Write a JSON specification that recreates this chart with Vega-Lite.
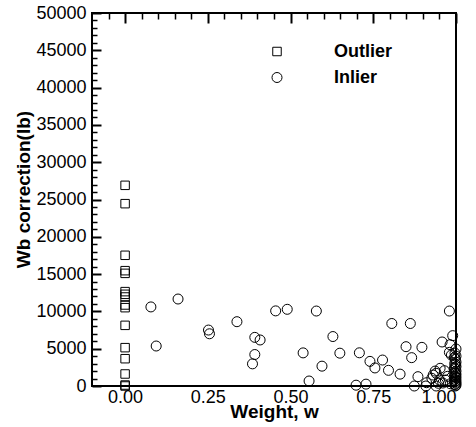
{
  "$schema": "https://vega.github.io/schema/vega-lite/v6.json",
  "autosize": {"type": "none"},
  "padding": {"left": 92, "top": 13, "right": 20, "bottom": 41},
  "width": 364,
  "height": 373,
  "config": {
    "font": "Liberation Sans",
    "view": {"stroke": "black", "strokeWidth": 2},
    "axis": {"zindex": 1, "domain": false, "ticks": false, "tickSize": 0, "grid": true, "gridColor": "black", "gridOpacity": 1, "labelColor": "black", "titleColor": "black"}
  },
  "data": {"values": [
    {"w": 0, "wb": 26900, "type": "Outlier"},
    {"w": 0, "wb": 24440, "type": "Outlier"},
    {"w": 0, "wb": 17520, "type": "Outlier"},
    {"w": 0, "wb": 15460, "type": "Outlier"},
    {"w": 0, "wb": 15100, "type": "Outlier"},
    {"w": 0, "wb": 12650, "type": "Outlier"},
    {"w": 0, "wb": 12290, "type": "Outlier"},
    {"w": 0, "wb": 11930, "type": "Outlier"},
    {"w": 0, "wb": 10860, "type": "Outlier"},
    {"w": 0, "wb": 10500, "type": "Outlier"},
    {"w": 0, "wb": 8130, "type": "Outlier"},
    {"w": 0, "wb": 5140, "type": "Outlier"},
    {"w": 0, "wb": 3660, "type": "Outlier"},
    {"w": 0, "wb": 1610, "type": "Outlier"},
    {"w": 0, "wb": 130, "type": "Outlier"},
    {"w": 0, "wb": 0, "type": "Outlier"},
    {"w": 0.078, "wb": 10600, "type": "Inlier"},
    {"w": 0.094, "wb": 5360, "type": "Inlier"},
    {"w": 0.160, "wb": 11660, "type": "Inlier"},
    {"w": 0.252, "wb": 7500, "type": "Inlier"},
    {"w": 0.255, "wb": 7000, "type": "Inlier"},
    {"w": 0.338, "wb": 8620, "type": "Inlier"},
    {"w": 0.392, "wb": 6520, "type": "Inlier"},
    {"w": 0.408, "wb": 6170, "type": "Inlier"},
    {"w": 0.392, "wb": 4220, "type": "Inlier"},
    {"w": 0.385, "wb": 2970, "type": "Inlier"},
    {"w": 0.455, "wb": 10070, "type": "Inlier"},
    {"w": 0.490, "wb": 10280, "type": "Inlier"},
    {"w": 0.578, "wb": 10050, "type": "Inlier"},
    {"w": 0.628, "wb": 6630, "type": "Inlier"},
    {"w": 0.538, "wb": 4440, "type": "Inlier"},
    {"w": 0.649, "wb": 4400, "type": "Inlier"},
    {"w": 0.708, "wb": 4450, "type": "Inlier"},
    {"w": 0.595, "wb": 2660, "type": "Inlier"},
    {"w": 0.556, "wb": 670, "type": "Inlier"},
    {"w": 0.698, "wb": 110, "type": "Inlier"},
    {"w": 0.728, "wb": 250, "type": "Inlier"},
    {"w": 0.740, "wb": 3300, "type": "Inlier"},
    {"w": 0.755, "wb": 2420, "type": "Inlier"},
    {"w": 0.778, "wb": 3480, "type": "Inlier"},
    {"w": 0.796, "wb": 2100, "type": "Inlier"},
    {"w": 0.806, "wb": 8380, "type": "Inlier"},
    {"w": 0.862, "wb": 8380, "type": "Inlier"},
    {"w": 0.849, "wb": 5270, "type": "Inlier"},
    {"w": 0.897, "wb": 5180, "type": "Inlier"},
    {"w": 0.866, "wb": 3800, "type": "Inlier"},
    {"w": 0.831, "wb": 1590, "type": "Inlier"},
    {"w": 0.885, "wb": 1250, "type": "Inlier"},
    {"w": 0.874, "wb": 0, "type": "Inlier"},
    {"w": 0.909, "wb": 0, "type": "Inlier"},
    {"w": 0.980, "wb": 10050, "type": "Inlier"},
    {"w": 0.958, "wb": 5900, "type": "Inlier"},
    {"w": 0.990, "wb": 6750, "type": "Inlier"},
    {"w": 0.982, "wb": 5540, "type": "Inlier"},
    {"w": 1.0, "wb": 4960, "type": "Inlier"},
    {"w": 0.986, "wb": 4150, "type": "Inlier"},
    {"w": 0.980, "wb": 4510, "type": "Inlier"},
    {"w": 0.937, "wb": 2000, "type": "Inlier"},
    {"w": 0.940, "wb": 1700, "type": "Inlier"},
    {"w": 0.931, "wb": 1470, "type": "Inlier"},
    {"w": 0.927, "wb": 1030, "type": "Inlier"},
    {"w": 0.950, "wb": 800, "type": "Inlier"},
    {"w": 0.947, "wb": 360, "type": "Inlier"},
    {"w": 0.911, "wb": 440, "type": "Inlier"},
    {"w": 0.940, "wb": 0, "type": "Inlier"},
    {"w": 0.952, "wb": 2370, "type": "Inlier"},
    {"w": 0.965, "wb": 2050, "type": "Inlier"},
    {"w": 0.968, "wb": 800, "type": "Inlier"},
    {"w": 0.975, "wb": 1300, "type": "Inlier"},
    {"w": 0.983, "wb": 300, "type": "Inlier"},
    {"w": 0.960, "wb": 400, "type": "Inlier"},
    {"w": 0.997, "wb": 4400, "type": "Inlier"},
    {"w": 1.0, "wb": 4000, "type": "Inlier"},
    {"w": 0.995, "wb": 3800, "type": "Inlier"},
    {"w": 0.998, "wb": 3600, "type": "Inlier"},
    {"w": 1.0, "wb": 3200, "type": "Inlier"},
    {"w": 0.996, "wb": 3000, "type": "Inlier"},
    {"w": 0.999, "wb": 2900, "type": "Inlier"},
    {"w": 1.0, "wb": 2600, "type": "Inlier"},
    {"w": 0.995, "wb": 2400, "type": "Inlier"},
    {"w": 0.998, "wb": 2300, "type": "Inlier"},
    {"w": 1.0, "wb": 2000, "type": "Inlier"},
    {"w": 0.996, "wb": 1800, "type": "Inlier"},
    {"w": 0.999, "wb": 1700, "type": "Inlier"},
    {"w": 1.0, "wb": 1500, "type": "Inlier"},
    {"w": 0.995, "wb": 1300, "type": "Inlier"},
    {"w": 0.998, "wb": 1200, "type": "Inlier"},
    {"w": 1.0, "wb": 1100, "type": "Inlier"},
    {"w": 0.997, "wb": 900, "type": "Inlier"},
    {"w": 1.0, "wb": 700, "type": "Inlier"},
    {"w": 0.995, "wb": 600, "type": "Inlier"},
    {"w": 0.999, "wb": 500, "type": "Inlier"},
    {"w": 1.0, "wb": 350, "type": "Inlier"},
    {"w": 0.997, "wb": 200, "type": "Inlier"},
    {"w": 1.0, "wb": 100, "type": "Inlier"},
    {"w": 0.998, "wb": 0, "type": "Inlier"}
  ]},
  "resolve": {"axis": {"x": "independent", "y": "independent"}},
  "layer": [
    {
      "mark": {"type": "point", "filled": false, "color": "black", "strokeWidth": 1, "opacity": 1},
      "encoding": {
        "x": {"field": "w", "type": "quantitative",
          "scale": {"domain": [-0.1, 1.0], "nice": false, "zero": false},
          "axis": {"orient": "bottom", "values": [0, 0.25, 0.5, 0.75, 1.0], "format": ".2f", "grid": true, "gridDash": [10, 1000], "gridWidth": 2, "gridColor": "black", "labelFontSize": 18, "labelPadding": 2, "title": "Weight, w", "titleFontSize": 19, "titleFontWeight": "bold", "titlePadding": -4}},
        "y": {"field": "wb", "type": "quantitative",
          "scale": {"domain": [0, 50000], "nice": false},
          "axis": {"orient": "left", "values": [0, 5000, 10000, 15000, 20000, 25000, 30000, 35000, 40000, 45000, 50000], "format": "d", "grid": true, "gridDash": [9, 1000], "gridWidth": 2, "gridColor": "black", "labelFontSize": 18, "labelPadding": 6, "title": "Wb correction(lb)", "titleFontSize": 19, "titleFontWeight": "bold", "titlePadding": 2, "titleY": 176}},
        "shape": {"field": "type", "type": "nominal",
          "scale": {"domain": ["Outlier", "Inlier"], "range": ["square", "circle"]},
          "legend": {"orient": "none", "legendX": 176, "legendY": 29.5, "title": null, "padding": 0, "labelFontSize": 18, "labelFontWeight": "bold", "labelColor": "black", "labelOffset": 48, "rowPadding": 8, "symbolStrokeColor": "black", "symbolFillColor": "transparent", "symbolStrokeWidth": 1}},
        "size": {"field": "type", "type": "nominal",
          "scale": {"domain": ["Outlier", "Inlier"], "range": [72, 100]},
          "legend": {"orient": "none", "legendX": 176, "legendY": 29.5, "title": null, "padding": 0, "labelFontSize": 18, "labelFontWeight": "bold", "labelColor": "black", "labelOffset": 48, "rowPadding": 8, "symbolStrokeColor": "black", "symbolFillColor": "transparent", "symbolStrokeWidth": 1}}
      }
    },
    {
      "mark": {"type": "point", "opacity": 0},
      "encoding": {
        "x": {"field": "w", "type": "quantitative",
          "axis": {"orient": "bottom", "values": [-0.05, 0.05, 0.1, 0.15, 0.2, 0.3, 0.35, 0.4, 0.45, 0.55, 0.6, 0.65, 0.7, 0.8, 0.85, 0.9, 0.95], "grid": true, "gridDash": [6, 1000], "gridWidth": 1.5, "gridColor": "black", "labels": false, "title": null}},
        "y": {"field": "wb", "type": "quantitative",
          "axis": {"orient": "left", "values": [1000, 2000, 3000, 4000, 6000, 7000, 8000, 9000, 11000, 12000, 13000, 14000, 16000, 17000, 18000, 19000, 21000, 22000, 23000, 24000, 26000, 27000, 28000, 29000, 31000, 32000, 33000, 34000, 36000, 37000, 38000, 39000, 41000, 42000, 43000, 44000, 46000, 47000, 48000, 49000], "grid": true, "gridDash": [5, 1000], "gridWidth": 1.5, "gridColor": "black", "labels": false, "title": null}}
      }
    }
  ]
}
